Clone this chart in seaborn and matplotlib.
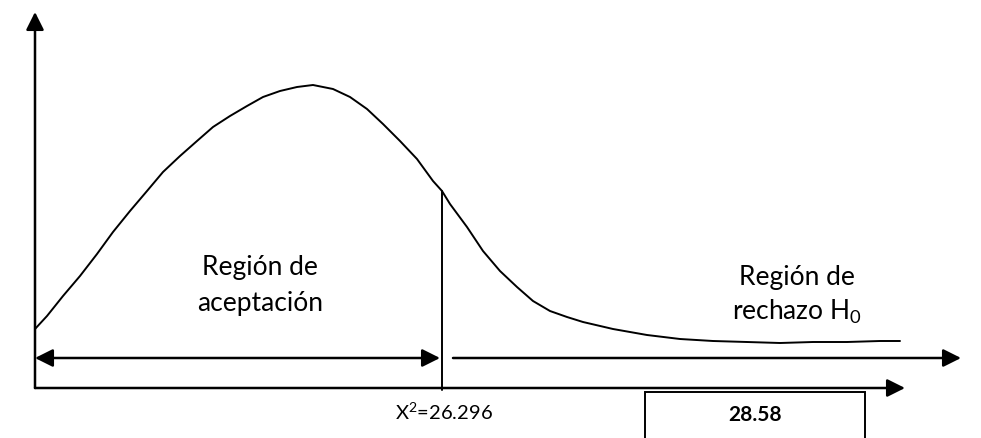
import matplotlib
matplotlib.use("Agg")
import matplotlib.pyplot as plt
import seaborn as sns
import pandas as pd
from matplotlib.patches import Rectangle

# ---- data (diagram units: x to the right of the y axis, y above the x axis) ----
curve_x = [0, 12, 28, 45, 62, 78, 95, 112, 128, 145, 162, 178, 195, 212, 228,
           245, 262, 278, 298, 315, 332, 348, 365, 382, 398, 407, 415, 432,
           448, 465, 482, 498, 515, 532, 548, 578, 612, 645, 678, 712, 745,
           778, 812, 845, 865]
curve_y = [59, 72, 92, 112, 134, 156, 177, 197, 216, 232, 247, 261, 272, 282,
           291, 297, 301, 303, 299, 291, 279, 264, 247, 229, 207, 197, 184,
           161, 137, 117, 101, 87, 77, 71, 66, 59, 53, 49, 47, 46, 45, 46, 46,
           47, 47]
critical_x = 407          # position of the critical value on the diagram
critical_label = "X$^2$=26.296"
statistic_label = "28.58"
accept_lines = ["Región de", "aceptación"]
reject_lines = ["Región de", "rechazo H$_0$"]

sns.set_theme(style="white")
plt.rcParams["font.family"] = ["Lato", "DejaVu Sans"]
plt.rcParams["mathtext.fontset"] = "custom"
plt.rcParams["mathtext.rm"] = "Lato"
plt.rcParams["mathtext.it"] = "Lato"
plt.rcParams["mathtext.default"] = "rm"

fig = plt.figure(figsize=(9.81, 4.39), dpi=100)
ax = fig.add_axes([0, 0, 1, 1])
ax.set_xlim(-35, 946)
ax.set_ylim(-50, 389)
ax.axis("off")

df = pd.DataFrame({"x": curve_x, "y": curve_y})
sns.lineplot(data=df, x="x", y="y", ax=ax, color="black", lw=1.4, sort=False)

# critical value line
crit_y = curve_y[curve_x.index(critical_x)]
ax.plot([critical_x, critical_x], [-2, crit_y], color="black", lw=1.4)

head = dict(arrowstyle="-|>,head_length=0.9,head_width=0.45", color="black",
            lw=1.8, shrinkA=0, shrinkB=0)
both = dict(arrowstyle="<|-|>,head_length=0.9,head_width=0.45", color="black",
            lw=1.8, shrinkA=0, shrinkB=0)
# axes
ax.annotate("", xy=(0, 376), xytext=(0, 0), arrowprops=head)
ax.annotate("", xy=(870, 0), xytext=(0, 0), arrowprops=head)
# acceptance region double arrow
ax.annotate("", xy=(405, 30), xytext=(0, 30), arrowprops=both)
# rejection region arrow
ax.annotate("", xy=(926, 30), xytext=(418, 30), arrowprops=head)

# labels
for txt, yy in zip(accept_lines, [121, 86]):
    ax.text(225, yy, txt, ha="center", va="center", fontsize=19, color="black")
for txt, yy in zip(reject_lines, [112, 77]):
    ax.text(762, yy, txt, ha="center", va="center", fontsize=19, color="black")
ax.text(409, -23, critical_label, ha="center", va="center", fontsize=14.5,
        color="black")

# box with statistic
ax.add_patch(Rectangle((610, -52), 220, 48, fill=False, edgecolor="black",
                       lw=1.4))
ax.text(720, -26, statistic_label, ha="center", va="center", fontsize=15,
        fontweight="bold", color="black")

fig.savefig("out.png", dpi=100, facecolor="white")
